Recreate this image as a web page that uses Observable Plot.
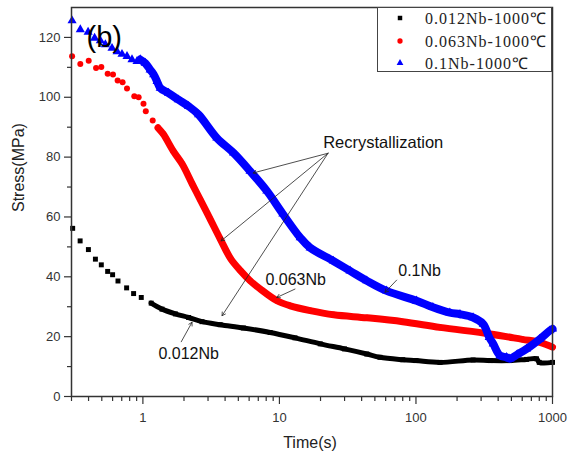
<!DOCTYPE html>
<html><head><meta charset="utf-8">
<script src="https://cdn.jsdelivr.net/npm/d3@7"></script>
<script src="https://cdn.jsdelivr.net/npm/@observablehq/plot@0.6"></script>
<style>
html,body{margin:0;padding:0;background:#fff;}
#wrap{position:relative;width:569px;height:459px;}
#legend{position:absolute;left:377px;top:7px;width:175px;height:65px;border:1px solid #444;background:#fff;font-family:"Liberation Serif","Times New Roman",serif;font-size:16px;letter-spacing:1px;color:#222;box-sizing:border-box;}
.row{position:absolute;left:0;height:20px;display:flex;align-items:center;white-space:nowrap;}
.row svg{margin-left:17px;margin-right:20px;}
</style></head><body><div id="wrap"></div>
<script>
// ---- data ----
const seriesNames = ["0.012Nb-1000℃", "0.063Nb-1000℃", "0.1Nb-1000℃"];
const seriesColors = ["#000000", "#ff0000", "#0000ff"];
const seriesSymbols = ["square", "circle", "triangle"];

const time012 = [0.306,0.347,0.399,0.449,0.496,0.552,0.600,0.657,0.760,0.855,0.973,1.15,1.38,1.73,2.16,2.71,3.68,5.45,8.55,13,19.9,30,43.6,54.5,80,100,150,262,350,487,646,764,800,1000];
const stress012 = [56.2,52,49.1,45.9,44,41.8,40.7,38.6,36.3,34.4,33.1,31.2,29.2,27.6,26.4,25.0,24.0,22.9,21.4,19.6,17.6,15.9,14.2,13.1,12.3,12.0,11.4,12.2,12.0,12.0,12.4,12.6,11.4,11.4];

const time063 = [0.303,0.348,0.401,0.454,0.496,0.552,0.604,0.653,0.710,0.765,0.865,0.931,1.01,1.05,1.18,1.29,1.41,1.67,1.94,2.30,2.63,3.11,3.68,4.4,5.2,6.1,7.2,9.6,12,16.8,25,43.8,80,150,348,600,808,1000];
const stress063 = [113.7,111.1,112.2,109.8,110.1,107.9,107.6,105.6,105,102.9,100.3,100,97.8,95.3,92.2,89.8,87.7,82,77.7,71,65.8,59.3,52.7,46,42,38.7,36,32,30.3,28.7,27.3,26.3,25,23.1,20.9,19.1,18.1,16.5];

const time1 = [0.303,0.348,0.397,0.443,0.488,0.531,0.594,0.647,0.703,0.765,0.832,0.906,0.957,1.04,1.13,1.20,1.27,1.34,1.54,1.82,2.16,2.56,3.48,4.61,6.1,8.09,10.6,14.2,16.8,24.8,32.9,43.6,61,101,133,177,210,262,311,344,368,412,461,487,551,646,808,955,1000];
const stress1 = [125.6,122.6,121.8,119.8,118.9,117.6,116.4,115.3,114.4,113.7,112.6,112,112.6,111.4,109.2,107.6,105.3,103.1,101.4,99.2,97,94.2,86.4,81.4,75.3,68.7,61,53.1,49.7,45.3,42,38.7,35.3,32,29.8,28,27.5,26.4,24.2,19.8,17.6,13.7,13.1,12.6,14,15.9,19.2,22,22.6];

// time from which the markers merge into a continuous band
const denseFrom = [1.15, 1.29, 0.957];

const xMajorTicks = [1, 10, 100, 1000];
const xMinorTicks = [0.3,0.4,0.5,0.6,0.7,0.8,0.9,2,3,4,5,6,7,8,9,20,30,40,50,60,70,80,90,200,300,400,500,600,700,800,900];
const yMajorTicks = [0, 20, 40, 60, 80, 100, 120];
const yMinorTicks = [10, 30, 50, 70, 90, 110];

// annotations (data coordinates)
const recrystLabel = "Recrystallization";
const recrystLabelPos = {t: 20.9, s: 84.8};
const recrystOrigin = {t: 22.7, s: 81.3};
const recrystTips = [{t: 6.42, s: 74.7}, {t: 3.74, s: 52}, {t: 3.8, s: 27}];
const curveLabels = [
  {text: "0.063Nb", t: 7.9, s: 39, t1: 13.0, s1: 35.9, t2: 9.57, s2: 33.1},
  {text: "0.1Nb", t: 74.2, s: 42, t1: 72.2, s1: 38.9, t2: 59.3, s2: 34.8},
  {text: "0.012Nb", t: 1.30, s: 14.3, t1: 1.91, s1: 18.3, t2: 2.29, s2: 24.8}
];

// ---- build ----
const series = [
  time012.map((t, i) => ({t, s: stress012[i]})),
  time063.map((t, i) => ({t, s: stress063[i]})),
  time1.map((t, i) => ({t, s: stress1[i]}))
];
const bandWidth = [5, 7, 8];
const dotR = [2.8, 3, 3.4];

const seriesMarks = [];
series.forEach((data, k) => {
  seriesMarks.push(Plot.line(data.filter(d => d.t >= denseFrom[k]), {
    x: "t", y: "s", stroke: seriesColors[k], strokeWidth: bandWidth[k], curve: "catmull-rom"
  }));
  seriesMarks.push(Plot.dot(data, {
    x: "t", y: "s", symbol: seriesSymbols[k], r: dotR[k], fill: seriesColors[k], stroke: "none"
  }));
});

const chart = Plot.plot({
  width: 569, height: 459,
  marginLeft: 71, marginRight: 17, marginTop: 7, marginBottom: 63,
  x: {type: "log", domain: [0.3, 1000]},
  y: {domain: [0, 130]},
  style: {fontFamily: "'Liberation Sans', Arial, sans-serif", background: "#fff", color: "#333"},
  marks: [
    ...seriesMarks,
    Plot.axisX({ticks: xMinorTicks, tickSize: 5, tickFormat: () => "", label: null, strokeWidth: 1.2}),
    Plot.axisX({ticks: xMajorTicks, tickSize: 8, tickPadding: 8, tickFormat: d => String(d), fontSize: 13, label: null, strokeWidth: 1.2}),
    Plot.axisY({ticks: yMinorTicks, tickSize: 4, tickFormat: () => "", label: null, strokeWidth: 1.2}),
    Plot.axisY({ticks: yMajorTicks, tickSize: 7, tickPadding: 4, fontSize: 13, label: null, strokeWidth: 1.2}),
    Plot.frame({stroke: "#333", strokeWidth: 1.5}),
    // annotations
    Plot.arrow(recrystTips, {x1: () => recrystOrigin.t, y1: () => recrystOrigin.s, x2: "t", y2: "s",
      stroke: "#222", strokeWidth: 0.8, headLength: 7}),
    Plot.text([recrystLabel], {x: () => recrystLabelPos.t, y: () => recrystLabelPos.s, text: d => d,
      textAnchor: "start", fontSize: 16.5, fill: "#111"}),
    Plot.arrow(curveLabels, {x1: "t1", y1: "s1", x2: "t2", y2: "s2", stroke: "#222", strokeWidth: 0.8, headLength: 7}),
    Plot.text(curveLabels, {x: "t", y: "s", text: "text", textAnchor: "start", fontSize: 16, fill: "#111"}),
    Plot.text(["(b)"], {text: d => d, frameAnchor: "top-left", textAnchor: "start", dx: 15, dy: 19, fontSize: 29, fill: "#000"}),
    Plot.text(["Stress(MPa)"], {text: d => d, frameAnchor: "left", dx: -53, dy: 10, rotate: -90, fontSize: 16, fill: "#222"}),
    Plot.text(["Time(s)"], {text: d => d, frameAnchor: "bottom", dx: -2, dy: 51, fontSize: 16, fill: "#222"})
  ]
});

const wrap = document.getElementById("wrap");
wrap.appendChild(chart);

// legend overlay
const legend = document.createElement("div");
legend.id = "legend";
const rowTops = [0, 23, 45];
seriesNames.forEach((name, k) => {
  const row = document.createElement("div");
  row.className = "row";
  row.style.top = rowTops[k] + "px";
  const sym = d3.symbol().type(k === 0 ? d3.symbolSquare : k === 1 ? d3.symbolCircle : d3.symbolTriangle).size(k === 1 ? 22 : 20)();
  row.innerHTML = `<svg width="10" height="10" viewBox="-5 -5 10 10"><path d="${sym}" fill="${seriesColors[k]}"/></svg><span>${name}</span>`;
  legend.appendChild(row);
});
wrap.appendChild(legend);
</script>
</body></html>
